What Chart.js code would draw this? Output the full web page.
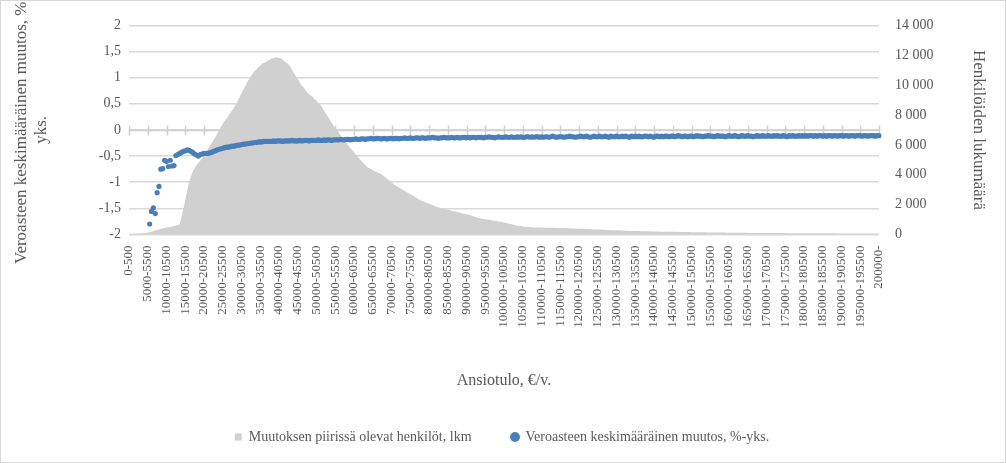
<!DOCTYPE html>
<html>
<head>
<meta charset="utf-8">
<script src="https://cdn.jsdelivr.net/npm/chart.js@4"></script>
<style>
  html, body { margin: 0; padding: 0; background: #fff; }
  #wrap { width: 1006px; height: 463px; position: relative; box-sizing: border-box; border: 1px solid #d9d9d9; }
</style>
</head>
<body>
<div id="wrap"><canvas id="c"></canvas></div>
<script>
// categories: 0-500, 500-1000, ... 199500-200000, 200000-
const labels = [];
for (let i = 0; i < 400; i++) labels.push((i * 500) + "-" + ((i + 1) * 500));
labels.push("200000-");

// persons in the change group, lkm (right axis)
const persons = [
  40,50,60,60,70,70,80,80,90,100,120,150,180,220,260,300,340,380,400,430,
  460,480,500,530,560,600,640,680,1150,1700,2300,2900,3500,3900,4220,4450,4650,4800,4950,5090,
  5300,5500,5700,5900,6100,6300,6500,6750,7000,7200,7400,7600,7750,7950,8150,8300,8500,8690,8950,9200,
  9450,9700,9950,10200,10400,10600,10800,10950,11050,11200,11300,11440,11500,11550,11650,11700,11780,11800,11850,11860,
  11820,11800,11700,11600,11500,11400,11250,11000,10800,10600,10400,10200,10000,9850,9700,9530,9400,9300,9200,9050,
  8950,8800,8680,8500,8300,8100,7900,7700,7500,7300,7150,7000,6800,6600,6450,6300,6100,5950,5800,5650,
  5500,5350,5200,5050,4900,4780,4650,4540,4450,4380,4300,4240,4180,4120,4060,4000,3900,3800,3700,3600,
  3500,3380,3300,3220,3150,3070,3000,2920,2850,2780,2700,2630,2560,2490,2400,2310,2260,2210,2160,2110,
  2060,2010,1960,1910,1860,1820,1780,1740,1710,1680,1650,1620,1590,1560,1530,1500,1470,1440,1410,1380,
  1350,1320,1280,1240,1200,1150,1120,1090,1070,1040,1020,1000,980,960,940,920,900,870,850,830,
  800,770,740,710,680,650,620,600,580,560,540,525,510,500,490,480,470,470,460,460,
  460,455,450,450,450,445,445,440,440,440,440,435,430,425,420,415,410,400,395,390,
  385,380,375,370,365,360,355,350,340,335,330,325,320,315,310,305,300,295,290,285,
  280,275,270,265,260,255,250,245,240,235,232,228,225,222,218,215,212,208,205,202,
  199,196,193,190,188,186,184,182,180,178,176,174,172,170,168,166,164,162,160,158,
  155,152,150,148,147,145,144,142,140,139,137,136,134,132,131,129,128,126,124,123,
  121,120,118,116,115,113,112,110,109,107,106,105,104,103,102,101,100,100,99,99,
  98,97,97,96,96,95,94,94,93,92,92,91,90,90,89,88,88,87,86,86,
  85,84,84,83,82,82,81,81,80,80,79,78,78,77,76,76,75,74,74,73,
  72,72,71,70,70,69,68,67,66,65,64,63,62,62,61,60,60,59,58,58,
  60
];

// average change in tax rate, %-points (left axis)
const taxChange = [
  null,null,null,null,null,null,null,null,null,null,null,-1.80,-1.56,-1.49,-1.60,-1.20,-1.08,-0.75,-0.74,-0.58,
  -0.60,-0.70,-0.58,-0.69,-0.68,-0.49,-0.47,-0.45,-0.43,-0.41,-0.40,-0.38,-0.39,-0.41,-0.43,-0.46,-0.48,-0.50,-0.47,-0.46,
  -0.45,-0.45,-0.45,-0.44,-0.43,-0.41,-0.40,-0.38,-0.37,-0.36,-0.35,-0.34,-0.33,-0.33,-0.32,-0.31,-0.31,-0.30,-0.29,-0.29,
  -0.28,-0.27,-0.27,-0.26,-0.26,-0.25,-0.25,-0.24,-0.24,-0.23,-0.23,-0.23,-0.22,-0.22,-0.22,-0.22,-0.22,-0.21,-0.22,-0.21,
  -0.21,-0.21,-0.22,-0.21,-0.21,-0.21,-0.21,-0.20,-0.21,-0.21,-0.21,-0.20,-0.21,-0.205,-0.20,-0.20,-0.21,-0.20,-0.20,-0.20,
  -0.20,-0.19,-0.20,-0.20,-0.19,-0.20,-0.19,-0.19,-0.20,-0.19,-0.19,-0.19,-0.19,-0.18,-0.19,-0.19,-0.18,-0.18,-0.19,-0.18,
  -0.18,-0.17,-0.18,-0.18,-0.17,-0.17,-0.18,-0.17,-0.17,-0.16,-0.17,-0.17,-0.16,-0.16,-0.17,-0.17,-0.16,-0.17,-0.17,-0.16,
  -0.16,-0.17,-0.16,-0.16,-0.17,-0.16,-0.16,-0.15,-0.16,-0.16,-0.15,-0.16,-0.16,-0.15,-0.15,-0.16,-0.15,-0.15,-0.16,-0.15,
  -0.15,-0.15,-0.14,-0.15,-0.15,-0.16,-0.15,-0.15,-0.14,-0.15,-0.15,-0.15,-0.14,-0.15,-0.15,-0.14,-0.15,-0.15,-0.14,-0.14,
  -0.15,-0.14,-0.15,-0.14,-0.14,-0.15,-0.14,-0.14,-0.14,-0.15,-0.14,-0.14,-0.13,-0.14,-0.14,-0.15,-0.14,-0.13,-0.14,-0.14,
  -0.14,-0.13,-0.14,-0.14,-0.13,-0.14,-0.14,-0.13,-0.14,-0.13,-0.14,-0.14,-0.13,-0.13,-0.14,-0.13,-0.14,-0.13,-0.13,-0.14,
  -0.13,-0.14,-0.13,-0.13,-0.14,-0.13,-0.12,-0.13,-0.14,-0.13,-0.13,-0.13,-0.14,-0.13,-0.13,-0.12,-0.13,-0.13,-0.14,-0.13,
  -0.13,-0.12,-0.13,-0.13,-0.12,-0.13,-0.14,-0.13,-0.12,-0.13,-0.13,-0.12,-0.13,-0.13,-0.12,-0.13,-0.14,-0.12,-0.13,-0.13,
  -0.12,-0.13,-0.13,-0.12,-0.13,-0.12,-0.13,-0.14,-0.12,-0.13,-0.12,-0.13,-0.12,-0.13,-0.13,-0.12,-0.12,-0.13,-0.12,-0.13,
  -0.14,-0.12,-0.12,-0.13,-0.12,-0.13,-0.12,-0.12,-0.13,-0.12,-0.12,-0.13,-0.12,-0.11,-0.12,-0.13,-0.12,-0.12,-0.13,-0.12,
  -0.12,-0.13,-0.12,-0.11,-0.12,-0.12,-0.13,-0.12,-0.12,-0.11,-0.12,-0.12,-0.13,-0.12,-0.11,-0.12,-0.12,-0.12,-0.13,-0.12,
  -0.11,-0.12,-0.12,-0.11,-0.12,-0.13,-0.12,-0.11,-0.12,-0.12,-0.11,-0.12,-0.12,-0.13,-0.12,-0.11,-0.12,-0.12,-0.11,-0.12,
  -0.12,-0.11,-0.12,-0.12,-0.11,-0.12,-0.11,-0.12,-0.12,-0.11,-0.12,-0.13,-0.11,-0.12,-0.11,-0.12,-0.12,-0.11,-0.12,-0.11,
  -0.12,-0.11,-0.12,-0.11,-0.11,-0.12,-0.11,-0.12,-0.11,-0.11,-0.12,-0.11,-0.12,-0.11,-0.11,-0.12,-0.11,-0.11,-0.12,-0.11,
  -0.11,-0.12,-0.11,-0.11,-0.12,-0.11,-0.11,-0.12,-0.11,-0.11,-0.11,-0.12,-0.11,-0.11,-0.12,-0.11,-0.11,-0.11,-0.12,-0.11,
  -0.11
];

const font = "'Liberation Serif', 'Times New Roman', serif";
const txt = "#595959";

// horizontal category line at y = 0 with small ticks every 10 categories
const zeroAxis = {
  id: "zeroAxis",
  beforeDatasetsDraw(chart) {
    const x = chart.scales.x, y = chart.scales.y, c = chart.ctx;
    const y0 = Math.round(y.getPixelForValue(0)) + 0.5;
    c.save();
    c.strokeStyle = "#d0d0d0";
    c.lineWidth = 1.5;
    c.beginPath();
    c.moveTo(chart.chartArea.left, y0);
    c.lineTo(chart.chartArea.right, y0);
    for (let i = 0; i < labels.length; i += 10) {
      const px = Math.round(x.getPixelForValue(i)) + 0.5;
      c.moveTo(px, y0 - 5);
      c.lineTo(px, y0 + 5);
    }
    c.stroke();
    c.restore();
  }
};

new Chart(document.getElementById("c"), {
  type: "line",
  data: {
    labels: labels,
    datasets: [
      {
        label: "Veroasteen keskimääräinen muutos, %-yks.",
        data: taxChange,
        yAxisID: "y",
        showLine: false,
        pointRadius: 2.6,
        pointHoverRadius: 2.6,
        pointBackgroundColor: "#4a7ebb",
        pointBorderWidth: 0,
        pointStyle: "circle",
        order: 0
      },
      {
        label: "Muutoksen piirissä olevat henkilöt, lkm",
        data: persons,
        yAxisID: "y1",
        fill: "origin",
        backgroundColor: "#d0d0d0",
        borderWidth: 0,
        pointRadius: 0,
        pointStyle: "rect",
        tension: 0,
        order: 1
      }
    ]
  },
  options: {
    responsive: true,
    maintainAspectRatio: false,
    animation: false,
    layout: { padding: { left: 8, right: 10, top: 14, bottom: 8 } },
    scales: {
      x: {
        offset: false,
        grid: { display: false },
        border: { display: false },
        ticks: {
          autoSkip: false,
          maxRotation: 90,
          minRotation: 90,
          color: txt,
          font: { family: font, size: 13 },
          callback: function(v, i) { return i % 10 === 0 ? labels[i] : null; }
        },
        title: { display: true, text: "Ansiotulo, €/v.", color: txt, font: { family: font, size: 16 }, padding: { top: 40, bottom: 0 } }
      },
      y: {
        position: "left",
        min: -2, max: 2,
        border: { display: false },
        grid: { color: "#d9d9d9", lineWidth: 1.5, drawTicks: false },
        afterFit: s => { s.width = 120; },
        ticks: {
          stepSize: 0.5, color: txt, padding: 8,
          font: { family: font, size: 14 },
          callback: v => String(v).replace(".", ",")
        },
        title: {
          display: true,
          text: ["Veroasteen keskimääräinen muutos, %-", "yks."],
          color: txt, font: { family: font, size: 17 }, padding: 2
        }
      },
      y1: {
        position: "right",
        min: 0, max: 14000,
        border: { display: false },
        grid: { display: false, drawTicks: false },
        afterFit: s => { s.width = 116; },
        ticks: {
          stepSize: 2000, color: txt, padding: 16,
          font: { family: font, size: 14 },
          callback: v => v >= 1000 ? Math.floor(v / 1000) + " " + String(v % 1000).padStart(3, "0") : String(v)
        },
        title: { display: true, text: "Henkilöiden lukumäärä", color: txt, font: { family: font, size: 17 }, padding: 6 }
      }
    },
    plugins: {
      legend: {
        position: "bottom",
        reverse: true,
        labels: {
          usePointStyle: true,
          boxWidth: 7, boxHeight: 7,
          padding: 40,
          color: txt,
          font: { family: font, size: 14 }
        }
      },
      tooltip: { enabled: false }
    }
  },
  plugins: [zeroAxis]
});
</script>
</body>
</html>
